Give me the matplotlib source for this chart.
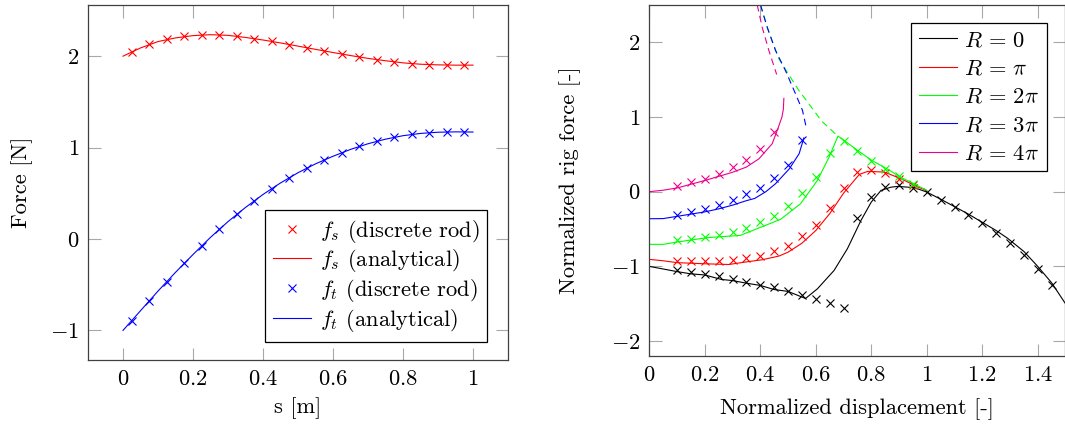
import numpy as np
import matplotlib.pyplot as plt

plt.rcParams['font.family'] = 'serif'
plt.rcParams['font.serif'] = ['cmr10']
plt.rcParams['mathtext.fontset'] = 'cm'
plt.rcParams['axes.formatter.use_mathtext'] = True
plt.rcParams['font.size'] = 16.2

# ---- left panel: forces along the rod ----
s_rod = [0.025, 0.075, 0.125, 0.175, 0.225, 0.275, 0.325, 0.375, 0.425, 0.475,
         0.525, 0.575, 0.625, 0.675, 0.725, 0.775, 0.825, 0.875, 0.925, 0.975]
fs_rod = [2.049, 2.129, 2.184, 2.217, 2.232, 2.232, 2.217, 2.191, 2.162, 2.126,
          2.093, 2.057, 2.024, 1.991, 1.962, 1.937, 1.918, 1.907, 1.903, 1.903]
ft_rod = [-0.894, -0.675, -0.467, -0.267, -0.073, 0.105, 0.269, 0.419, 0.550, 0.671,
          0.777, 0.864, 0.944, 1.013, 1.068, 1.112, 1.144, 1.163, 1.171, 1.166]

s_ana = [0.0, 0.05, 0.1, 0.15, 0.2, 0.25, 0.3, 0.35, 0.4, 0.45, 0.5,
         0.55, 0.6, 0.65, 0.7, 0.75, 0.8, 0.85, 0.9, 0.95, 1.0]
fs_ana = [2.0, 2.09, 2.16, 2.20, 2.225, 2.235, 2.228, 2.205, 2.177, 2.145, 2.11,
          2.075, 2.04, 2.007, 1.976, 1.95, 1.927, 1.912, 1.905, 1.902, 1.902]
ft_ana = [-1.0, -0.785, -0.57, -0.365, -0.17, 0.018, 0.19, 0.345, 0.487, 0.613, 0.725,
          0.822, 0.905, 0.98, 1.042, 1.092, 1.13, 1.155, 1.168, 1.172, 1.17]

# ---- right panel: normalized rig force ----
u_mk = [0.1, 0.15, 0.2, 0.25, 0.3, 0.35, 0.4, 0.45, 0.5, 0.55, 0.6, 0.65, 0.7,
        0.75, 0.8, 0.85, 0.9, 0.95, 1.0, 1.05, 1.1, 1.15, 1.2, 1.25, 1.3, 1.35, 1.4, 1.45]

# R = 0
f0_mk = [-1.054, -1.08, -1.107, -1.134, -1.165, -1.21, -1.254, -1.281, -1.335, -1.379,
         -1.44, -1.49, -1.553, -0.348, -0.067, 0.062, 0.088, 0.054, -0.005, -0.105,
         -0.206, -0.308, -0.42, -0.549, -0.683, -0.843, -1.031, -1.254]
u0_ln = [0.0, 0.1, 0.15, 0.2, 0.26, 0.3, 0.35, 0.4, 0.45, 0.5, 0.563, 0.606, 0.666,
         0.714, 0.763, 0.8, 0.835, 0.87, 0.895, 0.956, 1.0, 1.05, 1.1, 1.15, 1.2,
         1.25, 1.29, 1.35, 1.4, 1.45, 1.5]
f0_ln = [-1.0, -1.07, -1.10, -1.115, -1.175, -1.19, -1.225, -1.255, -1.31, -1.335, -1.43,
         -1.30, -1.054, -0.763, -0.384, -0.139, 0.017, 0.06, 0.071, 0.054, -0.005, -0.10,
         -0.2, -0.30, -0.41, -0.52, -0.62, -0.80, -1.0, -1.22, -1.5]

# R = pi
f1_mk = [-0.933, -0.933, -0.933, -0.933, -0.92, -0.889, -0.862, -0.795, -0.723, -0.598,
         -0.44, -0.214, 0.053, 0.263, 0.294, 0.25, 0.17, 0.084]
u1_ln = [0.0, 0.05, 0.1, 0.2, 0.286, 0.346, 0.407, 0.467, 0.5, 0.55, 0.6, 0.65, 0.7,
         0.757, 0.787, 0.847, 0.907, 0.968, 1.0]
f1_ln = [-0.906, -0.925, -0.95, -0.965, -0.975, -0.942, -0.911, -0.862, -0.81, -0.69,
         -0.52, -0.295, -0.02, 0.232, 0.272, 0.263, 0.174, 0.062, 0.017]

# R = 2 pi
f2_mk = [-0.652, -0.634, -0.607, -0.576, -0.536, -0.487, -0.407, -0.321, -0.197, -0.018,
         0.196, 0.517, 0.678, 0.544, 0.415, 0.307, 0.205, 0.102]
u2_ln = [0.0, 0.05, 0.1, 0.207, 0.328, 0.473, 0.545, 0.606, 0.648, 0.68, 0.702,
         0.754, 0.802, 0.854, 0.905, 0.953, 1.0]
f2_ln = [-0.705, -0.705, -0.674, -0.616, -0.585, -0.37, -0.161, 0.152, 0.464, 0.745,
         0.687, 0.544, 0.419, 0.312, 0.196, 0.107, 0.017]
u2_dash = [0.40, 0.43, 0.467, 0.497, 0.539, 0.575, 0.62, 0.666, 0.68]
f2_dash = [2.5, 2.15, 1.78, 1.60, 1.356, 1.178, 0.95, 0.79, 0.745]

# R = 3 pi
f3_mk = [-0.309, -0.273, -0.237, -0.184, -0.116, -0.036, 0.053, 0.183, 0.361, 0.696]
u3_ln = [0.0, 0.05, 0.1, 0.15, 0.2, 0.25, 0.3, 0.35, 0.38, 0.42, 0.455, 0.505, 0.54, 0.557]
f3_ln = [-0.362, -0.36, -0.33, -0.30, -0.27, -0.23, -0.18, -0.12, -0.09, 0.0, 0.107,
         0.308, 0.509, 0.72]
u3_dash = [0.401, 0.425, 0.455, 0.491, 0.527, 0.552, 0.564]
f3_dash = [2.5, 2.2, 1.89, 1.62, 1.31, 1.09, 0.888]

# R = 4 pi
f4_mk = [0.071, 0.124, 0.174, 0.241, 0.330, 0.428, 0.571, 0.798]
u4_ln = [0.0, 0.05, 0.1, 0.2, 0.3, 0.35, 0.395, 0.443, 0.461, 0.478, 0.483, 0.485]
f4_ln = [0.0, 0.02, 0.05, 0.15, 0.26, 0.33, 0.44, 0.643, 0.82, 1.0, 1.1, 1.25]
u4_dash = [0.389, 0.407, 0.431, 0.459]
f4_dash = [2.5, 2.2, 1.89, 1.57]

R_labels = [r'$R\,=\,0$', r'$R\,=\,\pi$', r'$R\,=\,2\pi$', r'$R\,=\,3\pi$', r'$R\,=\,4\pi$']
pink = '#EC008C'

fig = plt.figure(figsize=(10.65, 4.28), dpi=100)
ax1 = fig.add_axes([88 / 1065, 1 - 360 / 428, 420 / 1065, 355 / 428])
ax2 = fig.add_axes([649.3 / 1065, 1 - 356 / 428, 416.2 / 1065, 351 / 428])


def style_axes(ax):
    for sp in ax.spines.values():
        sp.set_color('#404040')
        sp.set_linewidth(0.9)
    ax.tick_params(direction='in', length=9, width=0.8, color='#a8a8a8',
                   top=True, right=True, pad=6.5, labelsize=16.2)


lw = 0.8
ms = 5.5
mew = 0.8

# left
ax1.plot(s_rod, fs_rod, 'x', color='red', ms=ms, mew=mew, label=r'$f_s$ (discrete rod)')
ax1.plot(s_ana, fs_ana, '-', color='red', lw=lw, label=r'$f_s$ (analytical)')
ax1.plot(s_rod, ft_rod, 'x', color='blue', ms=ms, mew=mew, label=r'$f_t$ (discrete rod)')
ax1.plot(s_ana, ft_ana, '-', color='blue', lw=lw, label=r'$f_t$ (analytical)')
ax1.set_xlim(-0.1, 1.1)
ax1.set_ylim(-1.324, 2.56)
ax1.set_xticks([0, 0.2, 0.4, 0.6, 0.8, 1.0])
ax1.set_xticklabels(['$0$', '$0.2$', '$0.4$', '$0.6$', '$0.8$', '$1$'])
ax1.set_yticks([-1, 0, 1, 2])
ax1.set_yticklabels(['$-1$', '$0$', '$1$', '$2$'])
style_axes(ax1)
ax1.set_xlabel('s [m]')
ax1.set_ylabel('Force [N]')
ax1.xaxis.set_label_coords(0.5, -0.105)
ax1.yaxis.set_label_coords(-0.13, 0.5)
leg1 = ax1.legend(loc='lower right', bbox_to_anchor=(0.951, 0.052), borderaxespad=0,
                  fancybox=False, framealpha=1, edgecolor='black', handlelength=1.7,
                  handletextpad=0.4, labelspacing=0.12, borderpad=0.35, fontsize=16.2)
leg1.get_frame().set_linewidth(0.9)

# right
cols = ['black', 'red', '#00FF00', 'blue', pink]
lines_u = [u0_ln, u1_ln, u2_ln, u3_ln, u4_ln]
lines_f = [f0_ln, f1_ln, f2_ln, f3_ln, f4_ln]
marks_f = [f0_mk, f1_mk, f2_mk, f3_mk, f4_mk]
handles = []
for i in range(5):
    h, = ax2.plot(lines_u[i], lines_f[i], '-', color=cols[i], lw=lw, label=R_labels[i])
    handles.append(h)
    ax2.plot(u_mk[:len(marks_f[i])], marks_f[i], 'x', color=cols[i], ms=ms, mew=mew)
ax2.plot(u2_dash, f2_dash, color=cols[2], lw=lw, ls=(0, (6, 4)))
ax2.plot(u3_dash, f3_dash, color=cols[3], lw=lw, ls=(0, (6, 4)))
ax2.plot(u4_dash, f4_dash, color=cols[4], lw=lw, ls=(0, (6, 4)))
ax2.set_xlim(0, 1.5)
ax2.set_ylim(-2.2, 2.5)
ax2.set_xticks([0, 0.2, 0.4, 0.6, 0.8, 1.0, 1.2, 1.4])
ax2.set_xticklabels(['$0$', '$0.2$', '$0.4$', '$0.6$', '$0.8$', '$1$', '$1.2$', '$1.4$'])
ax2.set_yticks([-2, -1, 0, 1, 2])
ax2.set_yticklabels(['$-2$', '$-1$', '$0$', '$1$', '$2$'])
style_axes(ax2)
ax2.set_xlabel('Normalized displacement [-]')
ax2.set_ylabel('Normalized rig force [-]')
ax2.xaxis.set_label_coords(0.5, -0.12)
ax2.yaxis.set_label_coords(-0.163, 0.5)
leg2 = ax2.legend(handles=handles, loc='upper right', bbox_to_anchor=(0.955, 0.95),
                  borderaxespad=0, fancybox=False, framealpha=1, edgecolor='black',
                  handlelength=1.7, handletextpad=0.3, labelspacing=0.38, borderpad=0.35,
                  fontsize=16.2)
leg2.get_frame().set_linewidth(0.9)

fig.savefig('out.png', dpi=100)
